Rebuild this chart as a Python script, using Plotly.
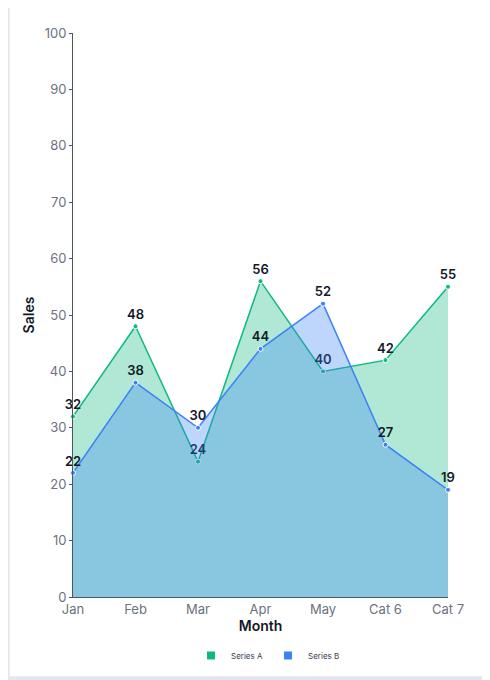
import plotly.graph_objects as go

categories = ["Jan", "Feb", "Mar", "Apr", "May", "Cat 6", "Cat 7"]
series_a = [32, 48, 24, 56, 40, 42, 55]
series_b = [22, 38, 30, 44, 52, 27, 19]
y_ticks = [0, 10, 20, 30, 40, 50, 60, 70, 80, 90, 100]

GREEN = "#10b981"
BLUE = "#3b82f6"

fig = go.Figure()
for name, vals, col, fillc in [
    ("Series A", series_a, GREEN, "rgba(16,185,129,0.33)"),
    ("Series B", series_b, BLUE, "rgba(59,130,246,0.33)"),
]:
    fig.add_trace(go.Scatter(
        x=categories, y=vals, name=name, showlegend=False,
        mode="lines+markers+text",
        fill="tozeroy", fillcolor=fillc,
        line=dict(color=col, width=1.5),
        marker=dict(size=5, color=col, line=dict(color="white", width=1)),
        text=[str(v) for v in vals], textposition="top center",
        textfont=dict(family="Inter", size=13, color="#111827", weight=600),
        cliponaxis=False,
    ))
    # square legend swatch
    fig.add_trace(go.Scatter(
        x=[None], y=[None], name=name, mode="markers",
        marker=dict(symbol="square", size=8, color=col),
    ))

# card look around the chart (page has an 8px body margin)
fig.add_shape(type="rect", xref="paper", yref="paper",
              x0=-0.171, x1=1.096, y0=-0.142, y1=1.1,
              fillcolor="white", line=dict(color="#e2e6ec", width=1.5), layer="below")

fig.update_layout(
    width=482, height=672,
    margin=dict(l=65, r=42, t=25, b=83, autoexpand=False),
    paper_bgcolor="#e3e7ee", plot_bgcolor="white",
    font=dict(family="Inter", color="#6b7280"),
    showlegend=True,
    legend=dict(orientation="h", x=0.52, xanchor="center", y=-0.078, yanchor="top",
                font=dict(size=8, color="#374151"), itemwidth=30, bgcolor="rgba(0,0,0,0)"),
    xaxis=dict(
        type="category", range=[0, 6], showgrid=False,
        showline=True, linecolor="#4b5563", linewidth=1,
        ticks="", tickfont=dict(size=13, color="#6b7280"),
        title=dict(text="Month", font=dict(size=14, color="#111827", weight=600), standoff=2),
    ),
    yaxis=dict(
        range=[0, 100], tickvals=y_ticks, showgrid=False, zeroline=False,
        showline=True, linecolor="#4b5563", linewidth=1,
        ticks="outside", ticklen=3, tickcolor="#4b5563",
        tickfont=dict(size=13, color="#6b7280"),
        title=dict(text="Sales", font=dict(size=14, color="#111827", weight=600), standoff=6),
    ),
)

fig.write_html("out.html")
